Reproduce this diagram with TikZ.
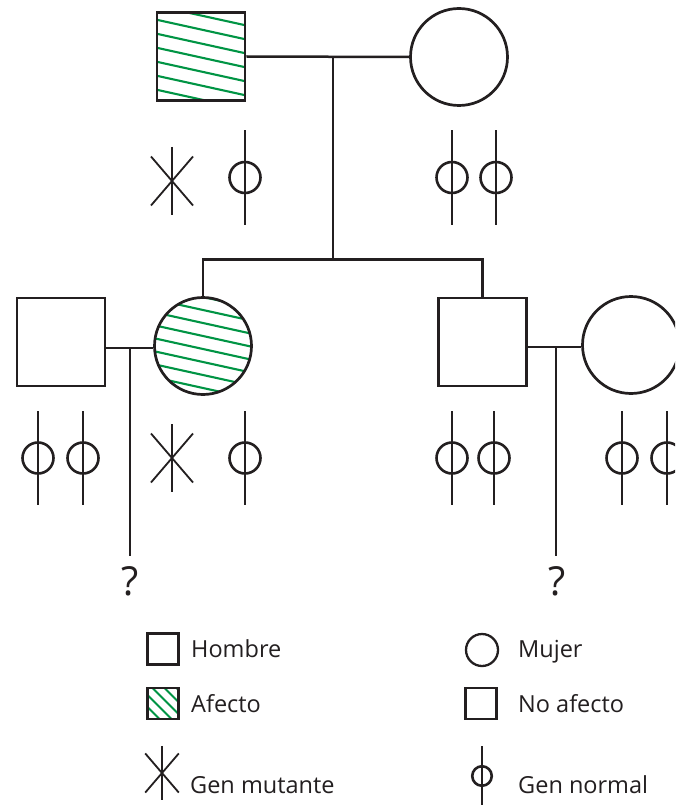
\documentclass[tikz,border=0pt]{standalone}
\usepackage{fontspec}
\setmainfont{Open Sans}
\usetikzlibrary{calc}
\definecolor{hatchgreen}{RGB}{0,148,68}
\definecolor{ink}{RGB}{35,31,32}
\tikzset{
  person/.style={draw=ink, line width=2.7pt, inner sep=0pt, fill=white},
  male/.style={person, rectangle, minimum size=88pt},
  female/.style={person, circle, minimum size=97pt},
  smallmale/.style={draw=ink, line width=2.3pt, rectangle, minimum size=31pt, inner sep=0pt},
  smallfemale/.style={draw=ink, line width=2.3pt, circle, minimum size=32pt, inner sep=0pt},
  link/.style={draw=ink, line width=2.5pt},
  chr/.style={draw=ink, line width=2.6pt},
  hatchline/.style={draw=hatchgreen, line width=2.1pt},
  hatchsq/.style={path picture={
    \foreach \k in {-5,...,5}{
      \draw[hatchline] ($(path picture bounding box.center)+(-60,14*\k+1-13.2)$) -- ++(120,26.4);}}},
  hatchci/.style={path picture={
    \foreach \k in {-6,...,6}{
      \draw[hatchline] ($(path picture bounding box.center)+(-60,13*\k+3-13.2)$) -- ++(120,26.4);}}},
  hatchleg/.style={path picture={
    \foreach \k in {-5,...,5}{
      \draw[hatchline] ($(path picture bounding box.center)+(-30,12*\k-5-30)$) -- ++(60,60);}}},
  normchr/.pic={\draw[chr] (0,-47) -- (0,47); \draw[chr] (0,0) circle (15.5);},
  mutchr/.pic={\draw[chr] (0,-34) -- (0,34);
               \draw[chr, line width=1.8pt] (-21,-24.5) -- (21,24.5) (-21,24.5) -- (21,-24.5);},
  legtext/.style={anchor=base west, inner sep=0pt, font=\fontsize{23.5}{28}\selectfont, text=ink},
  qmark/.style={anchor=base, inner sep=0pt, font=\fontsize{40}{44}\selectfont, text=ink}
}
\begin{document}
\begin{tikzpicture}[x=1pt, y=-1pt]
\path[use as bounding box, clip] (0,0) rectangle (675,805);
\fill[white] (0,0) rectangle (675,805);

% generation I
\node[male, hatchsq] (gf) at (201,56.5) {};
\node[female] (gm) at (459,57) {};
\coordinate (c1) at (333,57);
\coordinate (c2) at (333,259.5);
\draw[link] (gf.east) -- (gm.west);
\draw[link] (c1) -- (c2);

% generation II
\node[male] (h1) at (61,342) {};
\node[female, hatchci] (d) at (203,346) {};
\node[male] (s) at (482.5,342) {};
\node[female] (w2) at (631,345) {};

\draw[link] (d.north) -- (d.north |- c2) -- (s.north |- c2) -- (s.north);

\coordinate (m1) at (130,348);
\coordinate (e1) at (130,556);
\draw[link] (m1 -| h1.east) -- (m1 -| d.west);
\draw[link] (m1) -- (e1);
\node[qmark] (q1) at (130,595) {?};

\coordinate (m2) at (556,347);
\coordinate (e2) at (556,556);
\draw[link] (m2 -| s.east) -- (m2 -| w2.west);
\draw[link] (m2) -- (e2);
\node[qmark] (q2) at (557,595) {?};

% chromosomes generation I
\pic (g1a) at (172,181) {mutchr};
\pic (g1b) at (245,177.5) {normchr};
\pic (g1c) at (452,177.5) {normchr};
\pic (g1d) at (496,177.5) {normchr};

% chromosomes generation II
\pic (g2a) at (38,458) {normchr};
\pic (g2b) at (83,458) {normchr};
\pic (g2c) at (172,458) {mutchr};
\pic (g2d) at (245,458) {normchr};
\pic (g2e) at (452,458) {normchr};
\pic (g2f) at (494,458) {normchr};
\pic (g2g) at (622,458) {normchr};
\pic (g2h) at (667,458) {normchr};

% legend
\node[smallmale] (lh) at (163,649) {};
\node[legtext] (th) at (191,657) {Hombre};
\node[smallmale, hatchleg] (la) at (163,703.5) {};
\node[legtext] (ta) at (191,712) {Afecto};
\pic[scale=0.8] (lm) at (162,773) {mutchr};
\node[legtext] (tm) at (190,793) {Gen mutante};

\node[smallfemale] (lw) at (482,650) {};
\node[legtext] (tw) at (518,657) {Mujer};
\node[smallmale] (ln) at (481,703.5) {};
\node[legtext] (tn) at (518,712) {No afecto};
\pic[scale=0.63] (lg) at (482,776) {normchr};
\node[legtext] (tg) at (518,793) {Gen normal};
\end{tikzpicture}
\end{document}
